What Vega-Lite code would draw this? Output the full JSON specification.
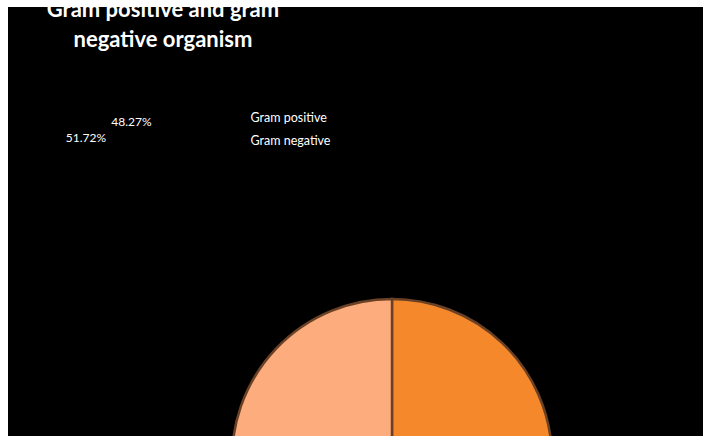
{
  "$schema": "https://vega.github.io/schema/vega-lite/v6.json",
  "width": 695,
  "height": 429,
  "autosize": {"type": "none"},
  "padding": {"left": 8, "top": 7, "right": 0, "bottom": 0},
  "background": "white",
  "config": {"view": {"fill": "black", "stroke": null}, "font": "Lato"},
  "title": {
    "text": ["Gram positive and gram", "negative organism"],
    "color": "white",
    "font": "Lato",
    "fontSize": 22,
    "fontWeight": "bold",
    "lineHeight": 30,
    "anchor": "start",
    "frame": "group",
    "align": "center",
    "dx": 155,
    "offset": -62,
    "baseline": "alphabetic"
  },
  "data": {
    "values": [
      {"group": "Gram positive", "pct": 48.27, "label": "48.27%"},
      {"group": "Gram negative", "pct": 51.72, "label": "51.72%"}
    ]
  },
  "layer": [
    {
      "mark": {"type": "arc", "radius": 160, "x": 384, "y": 452, "stroke": "#6b4126", "strokeWidth": 2.5},
      "encoding": {
        "theta": {"field": "pct", "type": "quantitative", "stack": true},
        "order": {"field": "group", "sort": "descending"},
        "color": {
          "field": "group",
          "type": "nominal",
          "scale": {"domain": ["Gram positive", "Gram negative"], "range": ["#F5882B", "#FCAC7D"]},
          "legend": {
            "title": null,
            "orient": "none",
            "legendX": 230,
            "legendY": 105,
            "symbolSize": 0,
            "symbolOpacity": 0,
            "symbolStrokeWidth": 0,
            "labelColor": "white",
            "labelFont": "Lato",
            "labelFontSize": 12.5,
            "labelOffset": 0,
            "rowPadding": 10,
            "padding": 0
          }
        }
      }
    },
    {
      "mark": {"type": "text", "color": "white", "fontSize": 12, "baseline": "alphabetic", "align": "center"},
      "encoding": {
        "x": {"field": "group", "type": "nominal", "axis": null, "scale": {"type": "point", "domain": ["Gram positive", "Gram negative"], "range": [123.5, 78], "padding": 0}},
        "y": {"field": "group", "type": "nominal", "axis": null, "scale": {"type": "point", "domain": ["Gram positive", "Gram negative"], "range": [119, 135], "padding": 0}},
        "text": {"field": "label"}
      }
    }
  ]
}
